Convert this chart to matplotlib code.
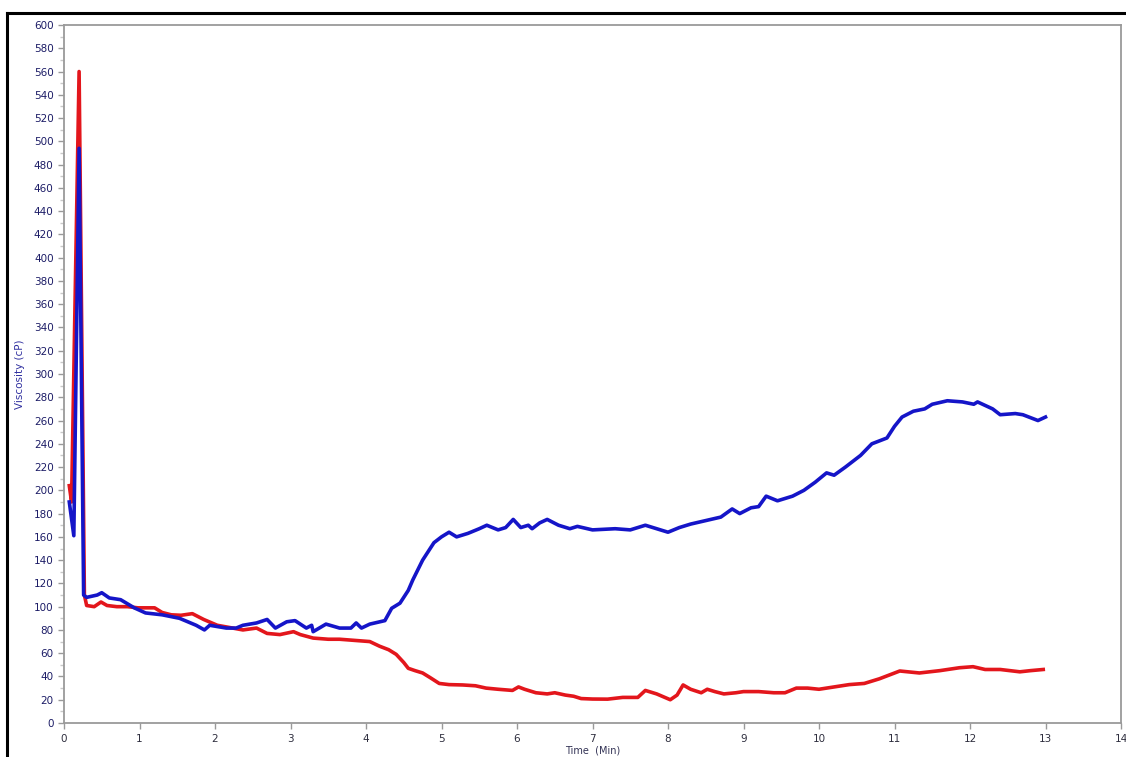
import numpy as np
import matplotlib.pyplot as plt
from matplotlib.lines import Line2D
from matplotlib.ticker import MultipleLocator

# time (min) / viscosity (cP) readings for the two runs
red_t = [0.07, 0.10, 0.20, 0.27, 0.30, 0.40, 0.49, 0.57, 0.70, 0.84, 0.98, 1.20, 1.30,
         1.42, 1.55, 1.70, 1.85, 2.03, 2.20, 2.37, 2.55, 2.69, 2.86, 3.04, 3.13, 3.30,
         3.50, 3.65, 3.85, 4.05, 4.18, 4.30, 4.40, 4.50, 4.56, 4.65, 4.75, 4.85, 4.97,
         5.10, 5.28, 5.45, 5.59, 5.75, 5.94, 6.02, 6.10, 6.25, 6.40, 6.50, 6.64, 6.75,
         6.85, 7.00, 7.20, 7.40, 7.60, 7.70, 7.85, 8.03, 8.12, 8.20, 8.30, 8.44, 8.52,
         8.62, 8.74, 8.90, 9.00, 9.20, 9.40, 9.55, 9.70, 9.85, 10.00, 10.20, 10.40,
         10.60, 10.80, 11.07, 11.33, 11.60, 11.86, 12.04, 12.20, 12.40, 12.66, 12.80, 12.97]
red_v = [204, 190, 560, 110, 101, 100, 104, 101, 100, 100, 99, 99, 95,
         93, 92.6, 94, 89, 84, 82, 80, 81.6, 77, 76, 78.5, 76, 73,
         72, 72, 71, 70, 66, 63, 59, 52, 47, 45, 43, 39, 34,
         33, 32.7, 32, 30, 29, 28, 31, 29, 26, 25, 26, 24, 23,
         21, 20.6, 20.5, 22, 22, 28, 25, 20, 24, 32.7, 29, 26, 29,
         27, 25, 26, 27, 27, 26, 26, 30, 30, 29, 31, 33,
         34, 38, 44.7, 43, 45, 47.5, 48.4, 46, 46, 44, 45, 46]

blue_t = [0.07, 0.13, 0.20, 0.26, 0.30, 0.44, 0.50, 0.60, 0.75, 0.93, 1.08, 1.30,
          1.53, 1.75, 1.86, 1.93, 2.15, 2.28, 2.37, 2.55, 2.69, 2.80, 2.95, 3.06,
          3.21, 3.28, 3.30, 3.47, 3.65, 3.80, 3.87, 3.94, 4.05, 4.25, 4.34, 4.45,
          4.56, 4.62, 4.75, 4.90, 5.00, 5.10, 5.20, 5.35, 5.50, 5.60, 5.75, 5.85,
          5.95, 6.05, 6.15, 6.20, 6.30, 6.40, 6.55, 6.70, 6.80, 7.00, 7.30, 7.50,
          7.70, 7.85, 8.00, 8.15, 8.30, 8.50, 8.70, 8.85, 8.95, 9.10, 9.20, 9.30,
          9.45, 9.65, 9.80, 9.95, 10.10, 10.20, 10.35, 10.55, 10.70, 10.90, 11.00,
          11.10, 11.25, 11.40, 11.50, 11.70, 11.90, 12.05, 12.10, 12.30, 12.40,
          12.60, 12.70, 12.90, 13.00]
blue_v = [190, 161, 494, 110, 108, 110, 112, 107.5, 106, 99, 94.6, 93,
          90, 84, 80, 84, 81.6, 81.6, 84, 86, 89, 81.6, 87, 88,
          81.6, 84, 78.5, 85, 81.6, 81.6, 86, 81.6, 85, 88, 98.6, 103,
          114, 123, 140, 155, 160, 164, 160, 163, 167, 170, 166, 168,
          175, 168, 170, 167, 172, 175, 170, 167, 169, 166, 167, 166,
          170, 167, 164, 168, 171, 174, 177, 184, 180, 185, 186, 195,
          191, 195, 200, 207, 215, 213, 220, 230, 240, 245, 255,
          263, 268, 270, 274, 277, 276, 274, 276, 270, 265,
          266, 265, 260, 263]

x_ticks = np.arange(0, 15, 1)
y_ticks = np.arange(0, 601, 20)

navy = '#1c1c66'
spine_gray = '#9a9a9a'

fig = plt.figure(figsize=(11.26, 7.57), dpi=100)
fig.patch.set_facecolor('white')
ax = fig.add_axes([64 / 1126, 1 - 723 / 757, (1121 - 64) / 1126, (723 - 25) / 757])

ax.plot(red_t, red_v, color='#e3161c', lw=2.6, solid_joinstyle='round')
ax.plot(blue_t, blue_v, color='#1515c8', lw=2.6, solid_joinstyle='round')

ax.set_xlim(0, 14)
ax.set_ylim(0, 600)
ax.set_xticks(x_ticks)
ax.set_yticks(y_ticks)
ax.yaxis.set_minor_locator(MultipleLocator(10))

for s in ax.spines.values():
    s.set_color(spine_gray)
    s.set_linewidth(1.3)

ax.tick_params(axis='both', colors=spine_gray, labelcolor=navy, labelsize=7.5,
               length=4, width=1)
ax.tick_params(axis='y', which='minor', colors='#c8c8c8', length=3, width=1)
ax.tick_params(axis='x', pad=4, labelcolor='#2e2e3e')

ax.set_xlabel('Time  (Min)', fontsize=7, color='#333355', labelpad=1)
ax.set_ylabel('Viscosity (cP)', fontsize=7.5, color='#3030a0', labelpad=6)

# dark frame around the plot area (top and left edges)
fig.add_artist(Line2D([7 / 1126, 7 / 1126], [0, 1 - 13 / 757],
                      transform=fig.transFigure, color='black', lw=2.2))
fig.add_artist(Line2D([7 / 1126, 1], [1 - 13 / 757, 1 - 13 / 757],
                      transform=fig.transFigure, color='black', lw=2.2))

fig.savefig('out.png', dpi=100)
